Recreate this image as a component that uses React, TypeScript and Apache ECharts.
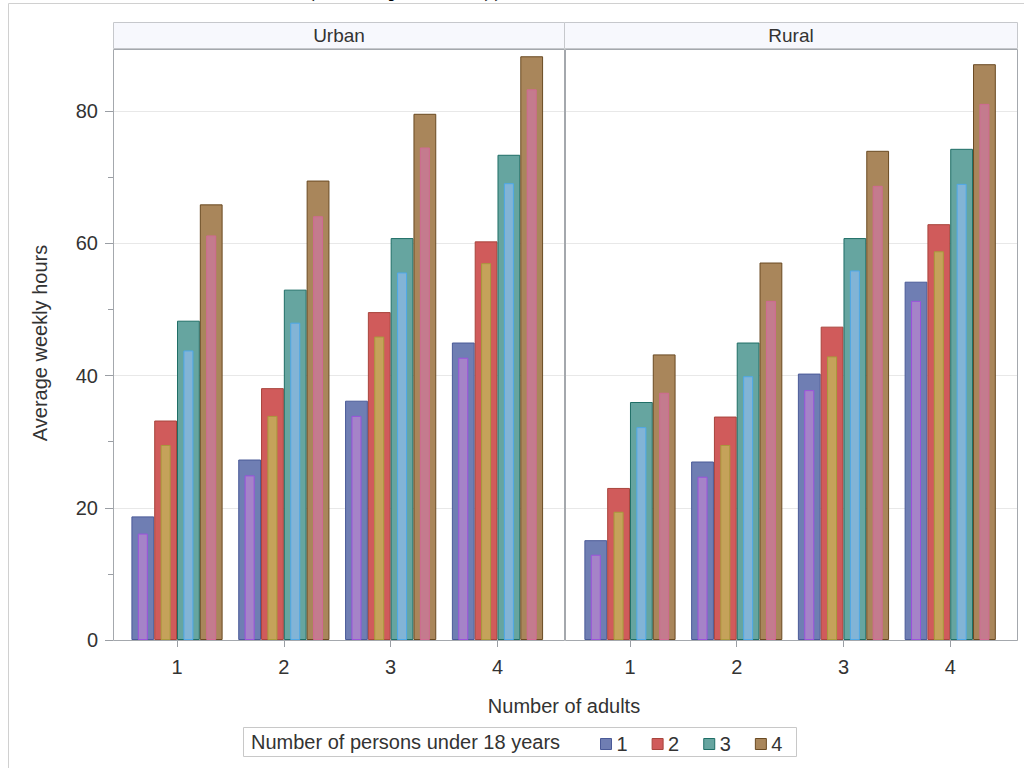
import React, { useEffect, useRef } from 'react';
import * as echarts from 'echarts';

// Number of adults (x categories)
const adults = ['1', '2', '3', '4'];
// Number of persons under 18 years (legend groups)
const persons = ['1', '2', '3', '4'];
const panels = ['Urban', 'Rural'];
const yMajorTicks = [0, 20, 40, 60, 80];
const yMinorTicks = [10, 30, 50, 70];

// Outer (wide) bars: one array per persons-under-18 group, values by number of adults
const urbanOuter = [
  [18.7, 27.3, 36.2, 45.0],
  [33.2, 38.1, 49.6, 60.3],
  [48.3, 53.0, 60.8, 73.4],
  [65.9, 69.5, 79.6, 88.3],
];
// Inner (narrow) bars
const urbanInner = [
  [16.1, 24.9, 33.9, 42.7],
  [29.5, 33.9, 45.9, 57.0],
  [43.8, 48.0, 55.6, 69.1],
  [61.2, 64.1, 74.5, 83.3],
];
const ruralOuter = [
  [15.1, 27.0, 40.3, 54.2],
  [23.0, 33.8, 47.4, 62.9],
  [36.0, 45.0, 60.8, 74.3],
  [43.2, 57.1, 74.0, 87.1],
];
const ruralInner = [
  [12.9, 24.7, 37.8, 51.3],
  [19.4, 29.5, 42.9, 58.8],
  [32.2, 39.9, 55.9, 69.0],
  [37.4, 51.3, 68.7, 81.1],
];

const outerFill = ['#6f7eb3', '#d05b5b', '#66a5a0', '#a9865b'];
const outerBorder = ['#4a5a98', '#a8443c', '#1f6e66', '#6a4a22'];
const innerFill = ['#a583c8', '#c5a25a', '#82b4d6', '#c47b8e'];
const innerBorder = ['#9b52dc', '#a89a3c', '#4ea8e8', '#d06a92'];

const FONT = '"Liberation Sans", Arial, sans-serif';
const FS = 20;
const YMAX = 89.4;
const PLOT_TOP = 49;
const PLOT_H = 591;
const OUTER_W = 22.8;
const INNER_W = 10;

export default function App() {
  const ref = useRef<HTMLDivElement>(null);

  useEffect(() => {
    if (!ref.current) return;
    const chart = echarts.init(ref.current, undefined, { renderer: 'svg' });

    const frameGrids = [
      { left: 113, top: PLOT_TOP, width: 451, height: PLOT_H },
      { left: 565, top: PLOT_TOP, width: 453, height: PLOT_H },
    ];
    const barGrids = [
      { left: 123.6, top: PLOT_TOP, width: 427.3, height: PLOT_H },
      { left: 576.6, top: PLOT_TOP, width: 427, height: PLOT_H },
    ];

    const xAxis: any[] = [
      { gridIndex: 0, type: 'value', min: 0, max: 1, show: false },
      { gridIndex: 1, type: 'value', min: 0, max: 1, show: false },
    ];
    const yAxis: any[] = [
      {
        gridIndex: 0, type: 'value', min: 0, max: YMAX, position: 'left',
        axisLine: { show: false },
        axisTick: { show: true, length: 8, customValues: yMajorTicks, lineStyle: { color: '#9a9ea4' } },
        axisLabel: { show: true, customValues: yMajorTicks, margin: 15, fontSize: FS, color: '#333', fontFamily: FONT },
        splitLine: { show: true, lineStyle: { color: '#e8e8e8', width: 1 } },
      },
      {
        gridIndex: 0, type: 'value', min: 0, max: YMAX, position: 'left',
        axisLine: { show: false },
        axisTick: { show: true, length: 5, customValues: yMinorTicks, lineStyle: { color: '#9a9ea4' } },
        axisLabel: { show: false },
        splitLine: { show: false },
      },
      {
        gridIndex: 1, type: 'value', min: 0, max: YMAX,
        axisLine: { show: false }, axisTick: { show: false }, axisLabel: { show: false },
        splitLine: { show: true, lineStyle: { color: '#e8e8e8', width: 1 } },
      },
    ];
    const series: any[] = [];
    const grids: any[] = [...frameGrids, ...barGrids];

    [urbanOuter, ruralOuter].forEach((outerData, p) => {
      const innerData = p === 0 ? urbanInner : ruralInner;
      const gridIndex = 2 + p;
      const xOuter = xAxis.length;
      xAxis.push({
        gridIndex, type: 'category', data: adults,
        axisLine: { show: false },
        axisTick: { show: true, alignWithLabel: true, length: 7, lineStyle: { color: '#9a9ea4' } },
        axisLabel: { fontSize: FS, color: '#333', margin: 17, fontFamily: FONT },
      });
      const xInner = xAxis.length;
      xAxis.push({ gridIndex, type: 'category', data: adults, show: false });
      const yIdx = yAxis.length;
      yAxis.push({ gridIndex, type: 'value', min: 0, max: YMAX, show: false, splitLine: { show: false } });

      persons.forEach((name, i) => {
        series.push({
          type: 'bar', name, xAxisIndex: xOuter, yAxisIndex: yIdx,
          data: outerData[i], barWidth: OUTER_W, barGap: '0%', z: 2,
          itemStyle: { color: outerFill[i], borderColor: outerBorder[i], borderWidth: 1 },
          emphasis: { disabled: true },
        });
      });
      persons.forEach((name, i) => {
        series.push({
          type: 'bar', name: name + ' inner', xAxisIndex: xInner, yAxisIndex: yIdx,
          data: innerData[i], barWidth: INNER_W, barGap: ((OUTER_W - INNER_W) / INNER_W * 100).toFixed(1) + '%', z: 3,
          itemStyle: { color: innerFill[i], borderColor: innerBorder[i], borderWidth: 1 },
          emphasis: { disabled: true },
        });
      });
    });

    const graphic: any[] = [
      // outer page border
      { type: 'rect', z: 0, shape: { x: 8.5, y: 3.5, width: 1100, height: 1000 }, style: { fill: 'none', stroke: '#d0d0d0', lineWidth: 1 } },
      // clipped title (only its lower edge shows at the top of the page)
      { type: 'text', z: 0, x: 305, y: -15.5, style: { text: '(weekly hours))', font: 'bold 30px "Liberation Serif", "Times New Roman", serif', fill: '#000', align: 'left', verticalAlign: 'middle' } },
      // header strips
      { type: 'rect', z: 10, shape: { x: 113.5, y: 22.5, width: 451, height: 26 }, style: { fill: '#f7f8fd', stroke: '#c6c8cc', lineWidth: 1 } },
      { type: 'rect', z: 10, shape: { x: 564.5, y: 22.5, width: 453, height: 26 }, style: { fill: '#f7f8fd', stroke: '#c6c8cc', lineWidth: 1 } },
      { type: 'text', z: 11, x: 339, y: 35.5, style: { text: panels[0], font: '19px ' + FONT, fill: '#333', align: 'center', verticalAlign: 'middle' } },
      { type: 'text', z: 11, x: 791, y: 35.5, style: { text: panels[1], font: '19px ' + FONT, fill: '#333', align: 'center', verticalAlign: 'middle' } },
      // panel borders
      { type: 'rect', z: 10, shape: { x: 113.5, y: 49.5, width: 451, height: 591 }, style: { fill: 'none', stroke: '#a4a8ad', lineWidth: 1 } },
      { type: 'rect', z: 10, shape: { x: 565.5, y: 49.5, width: 452, height: 591 }, style: { fill: 'none', stroke: '#a4a8ad', lineWidth: 1 } },
      // axis titles
      { type: 'text', z: 11, x: 40, y: 343, rotation: Math.PI / 2, style: { text: 'Average weekly hours', font: FS + 'px ' + FONT, fill: '#333', align: 'center', verticalAlign: 'middle' } },
      { type: 'text', z: 11, x: 564, y: 706, style: { text: 'Number of adults', font: FS + 'px ' + FONT, fill: '#333', align: 'center', verticalAlign: 'middle' } },
      // legend box
      { type: 'rect', z: 0, shape: { x: 243.5, y: 727.5, width: 553, height: 29 }, style: { fill: '#fff', stroke: '#c8c8c8', lineWidth: 1 } },
      { type: 'text', z: 11, x: 251, y: 741.5, style: { text: 'Number of persons under 18 years', font: FS + 'px ' + FONT, fill: '#333', align: 'left', verticalAlign: 'middle' } },
    ];

    chart.setOption({
      animation: false,
      backgroundColor: '#fff',
      grid: grids,
      xAxis,
      yAxis,
      series,
      legend: {
        data: persons,
        left: 600,
        top: 734,
        itemWidth: 11,
        itemHeight: 11,
        itemGap: 24,
        icon: 'rect',
        selectedMode: false,
        padding: 0,
        itemStyle: { borderWidth: 1 },
        textStyle: { fontSize: FS, color: '#333', fontFamily: FONT },
        z: 20,
      },
      graphic,
    });

    return () => chart.dispose();
  }, []);

  return <div ref={ref} style={{ position: 'absolute', left: 0, top: 0, width: 1024, height: 768 }} />;
}
